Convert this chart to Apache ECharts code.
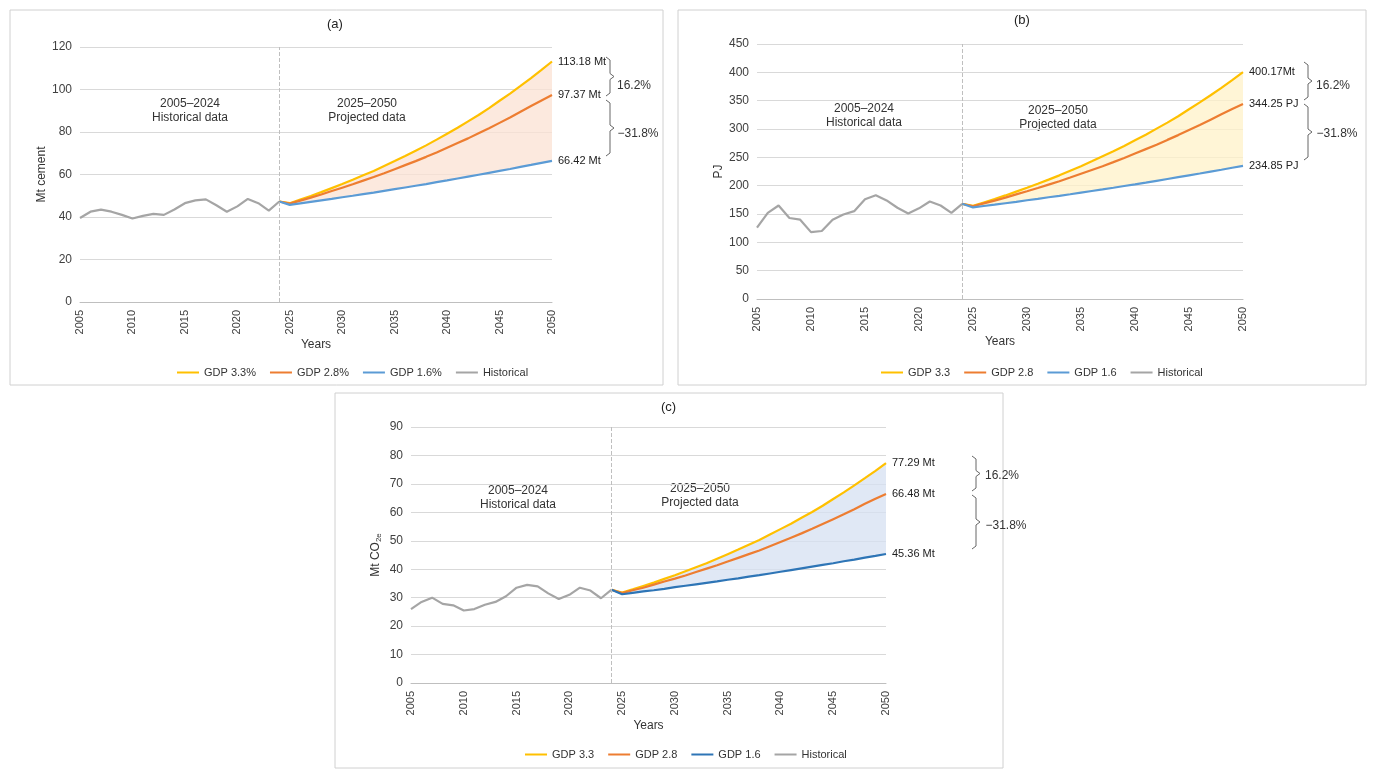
<!DOCTYPE html>
<html><head><meta charset="utf-8">
<script src="https://cdn.jsdelivr.net/npm/echarts@6/dist/echarts.min.js"></script>
<style>html,body{margin:0;background:#fff}#c{width:1374px;height:777px}</style>
</head><body><div id="c"></div>
<script>
var years = [];
for (var y = 2005; y <= 2050; y++) years.push(String(y));

// historical 2005-2024
var histA = [39.5,42.5,43.5,42.5,41,39.3,40.5,41.5,41,43.5,46.5,47.8,48.3,45.5,42.5,45,48.5,46.5,43,47.3];
var histB = [126,152,165,143,140,118,120,140,149,155,176,183,174,161,151,160,172,165,152,168];
var histC = [26,28.5,30,27.8,27.3,25.5,26,27.5,28.5,30.5,33.5,34.5,34,31.5,29.5,31,33.5,32.5,29.8,32.8];

// projections 2025-2050
var a33 = [46.5,48.2,49.9,51.7,53.6,55.5,57.5,59.6,61.7,64.0,66.3,68.7,71.2,73.7,76.4,79.2,82.0,85.0,88.0,91.2,94.7,98.1,101.7,105.4,109.2,113.18];
var a28 = [46.3,47.7,49.1,50.6,52.2,53.8,55.4,57.1,58.8,60.6,62.5,64.4,66.3,68.3,70.4,72.6,74.8,77.0,79.4,81.8,84.3,86.8,89.5,92.2,94.8,97.37];
var a16 = [45.7,46.4,47.1,47.8,48.5,49.3,50.0,50.8,51.5,52.3,53.1,53.9,54.7,55.5,56.4,57.2,58.1,59.0,59.9,60.8,61.7,62.6,63.6,64.5,65.5,66.42];
var b33 = [164.4,170.4,176.4,182.8,189.5,196.2,203.3,210.7,218.2,226.3,234.4,242.9,251.8,260.6,270.1,280.1,290.0,300.6,311.2,322.5,334.9,346.9,359.6,372.7,386.1,400.17];
var b28 = [163.7,168.7,173.6,178.9,184.6,190.2,195.9,201.9,207.9,214.3,221.0,227.7,234.4,241.5,248.9,256.7,264.5,272.3,280.8,289.2,298.1,306.9,316.5,326.0,335.2,344.25];
var b16 = [161.6,164.1,166.5,169.0,171.5,174.3,176.8,179.6,182.1,184.9,187.8,190.6,193.4,196.3,199.4,202.3,205.4,208.6,211.8,215.0,218.2,221.4,224.9,228.1,231.6,234.85];
var c33 = [31.8,32.9,34.1,35.3,36.6,37.9,39.3,40.7,42.1,43.7,45.3,46.9,48.6,50.3,52.2,54.1,56.0,58.1,60.1,62.3,64.7,67.0,69.5,72.0,74.6,77.29];
var c28 = [31.6,32.6,33.5,34.6,35.7,36.7,37.8,39.0,40.2,41.4,42.7,44.0,45.3,46.6,48.1,49.6,51.1,52.6,54.2,55.9,57.6,59.3,61.1,63.0,64.8,66.48];
var c16 = [31.2,31.7,32.2,32.6,33.1,33.7,34.2,34.7,35.2,35.7,36.3,36.8,37.4,37.9,38.5,39.1,39.7,40.3,40.9,41.5,42.1,42.8,43.4,44.1,44.7,45.36];

var namesA = ['GDP 3.3%','GDP 2.8%','GDP 1.6%','Historical'];
var namesB = ['GDP 3.3','GDP 2.8','GDP 1.6','Historical'];

var FONT = 'Liberation Sans';
var grids = [
  {left:80, right:822, top:47, bottom:475},
  {left:757, right:131, top:44, bottom:478},
  {left:411, right:488, top:427, bottom:94}
];
var panels = [
  {hist:histA, p:[a33,a28,a16], names:namesA, max:120, iv:20, yname:'Mt cement', units:[' Mt',' Mt',' Mt'], fill:'rgba(251,226,211,0.75)', blue:'#5B9BD5', legendLeft:172, legendTop:362},
  {hist:histB, p:[b33,b28,b16], names:namesB, max:450, iv:50, yname:'PJ', units:['Mt',' PJ',' PJ'], fill:'rgba(255,242,200,0.75)', blue:'#5B9BD5', legendLeft:876, legendTop:362},
  {hist:histC, p:[c33,c28,c16], names:namesB, max:90, iv:10, yname:'Mt CO{s|2e}', units:[' Mt',' Mt',' Mt'], fill:'rgba(214,224,241,0.75)', blue:'#2E75B6', legendLeft:520, legendTop:744}
];

function padHist(h){ var d = h.slice(); while (d.length < years.length) d.push(null); return d; }
function padProj(h, p){ var d = []; for (var i = 0; i < 19; i++) d.push(null); d.push(h[h.length-1]); return d.concat(p); }

var xAxis = [], yAxis = [], series = [], legend = [];
panels.forEach(function(pn, k){
  xAxis.push({type:'category', gridIndex:k, data:years, boundaryGap:false,
    name:'Years', nameLocation:'middle', nameGap:36, nameTextStyle:{fontFamily:FONT, fontSize:12, color:'#333'},
    axisLine:{lineStyle:{color:'#bfbfbf'}}, axisTick:{show:false},
    axisLabel:{rotate:90, fontFamily:FONT, fontSize:11, color:'#404040', interval:function(i){return i%5===0;}}});
  yAxis.push({type:'value', gridIndex:k, min:0, max:pn.max, interval:pn.iv,
    name:pn.yname, nameLocation:'middle', nameGap:k===1?30:28,
    nameTextStyle:{fontFamily:FONT, fontSize:12, color:'#333', rich:{s:{fontSize:8, verticalAlign:'bottom', padding:[6,0,0,0]}}},
    axisLine:{show:false}, axisTick:{show:false},
    axisLabel:{fontFamily:FONT, fontSize:12, color:'#404040'},
    splitLine:{lineStyle:{color:'#d9d9d9'}}});
  var colors = ['#FFC000','#ED7D31',pn.blue];
  var d33 = padProj(pn.hist, pn.p[0]), d16 = padProj(pn.hist, pn.p[2]);
  var diff = d33.map(function(v,i){ return v==null ? null : +(v - d16[i]).toFixed(2); });
  series.push({type:'line', xAxisIndex:k, yAxisIndex:k, stack:'band'+k, data:d16, symbol:'none', lineStyle:{opacity:0}, silent:true, z:1});
  series.push({type:'line', xAxisIndex:k, yAxisIndex:k, stack:'band'+k, data:diff, symbol:'none', lineStyle:{opacity:0}, areaStyle:{color:pn.fill, opacity:1}, silent:true, z:1});
  series.push({name:pn.names[3], type:'line', xAxisIndex:k, yAxisIndex:k, data:padHist(pn.hist), symbol:'none',
    color:'#A5A5A5', lineStyle:{width:2.2, color:'#A5A5A5'}, z:3,
    markLine:{symbol:'none', silent:true, label:{show:false}, lineStyle:{type:'dashed', color:'#bfbfbf', width:1}, data:[{xAxis:'2024'}]}});
  [0,1,2].forEach(function(j){
    var unit = pn.units[j];
    series.push({name:pn.names[j], type:'line', xAxisIndex:k, yAxisIndex:k, data:padProj(pn.hist, pn.p[j]), symbol:'none',
      color:colors[j], lineStyle:{width:2.2, color:colors[j]}, z:4,
      endLabel:{show:true, distance:6, fontFamily:FONT, fontSize:11, color:'#222',
        formatter:function(p){ return p.value.toFixed(2) + unit; }}});
  });
  var allColors = colors.concat(['#A5A5A5']);
  legend.push({left:pn.legendLeft, top:pn.legendTop, itemWidth:22, itemHeight:2, itemGap:14, icon:'rect',
    textStyle:{fontFamily:FONT, fontSize:11, color:'#333'},
    data:pn.names.map(function(n, i){ return {name:n, itemStyle:{color:allColors[i]}}; })});
});

function txt(x, y, s){ return {type:'text', style:{x:x, y:y, text:s, font:'12px ' + FONT, fill:'#333', textAlign:'center', lineHeight:14}}; }
function bracket(x, top, mid, bot){
  function part(a, b){ var m = (a+b)/2; return {type:'polyline', shape:{points:[[x-4,a],[x,a+3],[x,m-3],[x+4,m],[x,m+3],[x,b-3],[x-4,b]]}, style:{stroke:'#666', fill:null, lineWidth:1}}; }
  return [part(top, mid), part(mid+4, bot)];
}
function box(x, y, w, h){ return {type:'rect', shape:{x:x, y:y, width:w, height:h}, style:{stroke:'#d0d0d0', fill:null, lineWidth:1}, z:-1}; }

var graphic = [
  box(10,10,653,375), box(678,10,688,375), box(335,393,668,375),
  {type:'text', left:327, top:18, style:{text:'(a)', font:'13px ' + FONT, fill:'#222'}},
  {type:'text', left:1014, top:14, style:{text:'(b)', font:'13px ' + FONT, fill:'#222'}},
  {type:'text', left:661, top:401, style:{text:'(c)', font:'13px ' + FONT, fill:'#222'}},
  txt(190, 97, '2005–2024\nHistorical data'), txt(367, 97, '2025–2050\nProjected data'),
  txt(864, 102, '2005–2024\nHistorical data'), txt(1058, 104, '2025–2050\nProjected data'),
  txt(518, 484, '2005–2024\nHistorical data'), txt(700, 482, '2025–2050\nProjected data'),
  txt(634, 79, '16.2%'), txt(638, 127, '−31.8%'),
  txt(1333, 79, '16.2%'), txt(1337, 127, '−31.8%'),
  txt(1002, 469, '16.2%'), txt(1006, 519, '−31.8%')
].concat(bracket(610, 57, 96, 156), bracket(1308, 62, 100, 160), bracket(976, 456, 491, 549));

var chart = echarts.init(document.getElementById('c'));
chart.setOption({
  animation:false, backgroundColor:'#fff',
  grid:grids, xAxis:xAxis, yAxis:yAxis, series:series, legend:legend, graphic:graphic
});
</script></body></html>
